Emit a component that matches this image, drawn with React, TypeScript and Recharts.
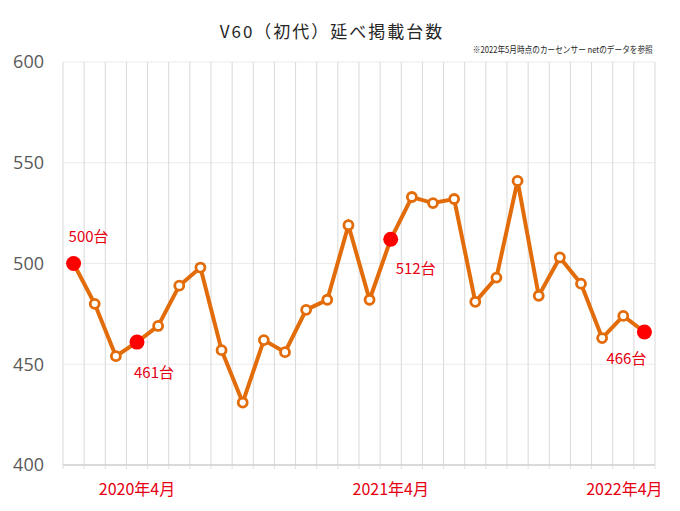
import React from "react";
import { LineChart, Line, XAxis, YAxis, CartesianGrid } from "recharts";

// 2020年1月〜2022年4月 の月次掲載台数
const months = [
  "2020/01", "2020/02", "2020/03", "2020/04", "2020/05", "2020/06", "2020/07",
  "2020/08", "2020/09", "2020/10", "2020/11", "2020/12", "2021/01", "2021/02",
  "2021/03", "2021/04", "2021/05", "2021/06", "2021/07", "2021/08", "2021/09",
  "2021/10", "2021/11", "2021/12", "2022/01", "2022/02", "2022/03", "2022/04",
];
const listings = [
  500, 480, 454, 461, 469, 489, 498, 457, 431, 462, 456, 477, 482, 519,
  482, 512, 533, 530, 532, 481, 493, 541, 484, 503, 490, 463, 474, 466,
];
const highlighted = [0, 3, 15, 27];
const xTickMonths = ["2020/04", "2021/04", "2022/04"];
const xTickLabels = ["2020年4月", "2021年4月", "2022年4月"];
const yTicks = [400, 450, 500, 550, 600];

const ORANGE = "#e36c0a";
const RED = "#ff0000";
const LABEL_RED = "#e60012";
const FONT = "'Noto Sans CJK JP', 'Noto Sans', sans-serif";

// where each highlighted value label sits relative to its dot
const labelOffset: Record<number, [number, number]> = {
  0: [15, -28],
  3: [17, 29],
  15: [25, 28],
  27: [-18, 25],
};

const data = months.map((m, i) => ({ month: m, pos: i + 0.5, count: listings[i] }));
const gridTicks = [...months.map((_, i) => i), months.length];
const labelTicks = xTickMonths.map(m => months.indexOf(m) + 0.5);

function renderDot(props: any) {
  const { cx, cy, index, value } = props;
  if (highlighted.includes(index)) {
    const [dx, dy] = labelOffset[index] ?? [0, -20];
    return (
      <g key={`dot-${index}`}>
        <circle cx={cx} cy={cy} r={7.5} fill={RED} />
        <text
          x={cx + dx} y={cy + dy}
          textAnchor="middle" dominantBaseline="central"
          fill={LABEL_RED} fontSize={15} fontFamily={FONT}
        >
          {value}台
        </text>
      </g>
    );
  }
  return (
    <circle key={`dot-${index}`} cx={cx} cy={cy} r={4.5}
      fill="#fff" stroke={ORANGE} strokeWidth={2.8} />
  );
}

function EmptyTick() {
  return <g />;
}

function MonthTick(props: any) {
  const { x, y, index } = props;
  const last = index === xTickLabels.length - 1;
  return (
    <text
      x={x + (last ? -20 : 0)} y={y + 24}
      textAnchor="middle" fill={LABEL_RED}
      fontSize={16} fontFamily={FONT}
    >
      {xTickLabels[index]}
    </text>
  );
}

export default function App() {
  return (
    <div style={{ position: "absolute", left: 0, top: 0, width: 680, height: 511, background: "#fff", fontFamily: FONT }}>
      <div style={{
        position: "absolute", left: 0, top: 21, width: 664, textAlign: "center",
        fontSize: 17, lineHeight: "20px", letterSpacing: 2, color: "#262626",
      }}>
        V60（初代）延べ掲載台数
      </div>
      <div style={{
        position: "absolute", right: 27, top: 44, whiteSpace: "nowrap",
        fontSize: 9, lineHeight: "12px", color: "#262626",
        transform: "scaleX(0.85)", transformOrigin: "right center",
      }}>
        ※2022年5月時点のカーセンサー netのデータを参照
      </div>
      <LineChart
        width={680} height={511} data={data}
        margin={{ top: 62, right: 25, bottom: 0, left: 0 }}
        style={{ position: "absolute", left: 0, top: 0 }}
      >
        <CartesianGrid xAxisId="grid" stroke="#ebebeb" vertical={false} />
        <CartesianGrid xAxisId="grid" stroke="#d9d9d9" horizontal={false} />
        <XAxis
          xAxisId="grid" dataKey="pos" type="number" domain={[0, months.length]}
          ticks={gridTicks} interval={0} height={6}
          tick={<EmptyTick />} tickSize={4}
          tickLine={{ stroke: "#e0e0e0" }} axisLine={{ stroke: "#bfbfbf" }}
        />
        <XAxis
          xAxisId="lbl" dataKey="pos" type="number" domain={[0, months.length]}
          ticks={labelTicks} interval={0} height={40}
          tickSize={0} tickMargin={0} tickLine={false} axisLine={false}
          tick={<MonthTick />}
        />
        <YAxis
          domain={[400, 600]} ticks={yTicks} interval={0} width={63}
          tickSize={0} tickMargin={19} tickLine={false} axisLine={false}
          tick={{ fill: "#595959", fontSize: 18, fontFamily: "'Open Sans', sans-serif" }}
        />
        <Line
          xAxisId="grid" dataKey="count" type="linear"
          stroke={ORANGE} strokeWidth={4}
          dot={renderDot} activeDot={false}
          isAnimationActive={false}
        />
      </LineChart>
    </div>
  );
}
